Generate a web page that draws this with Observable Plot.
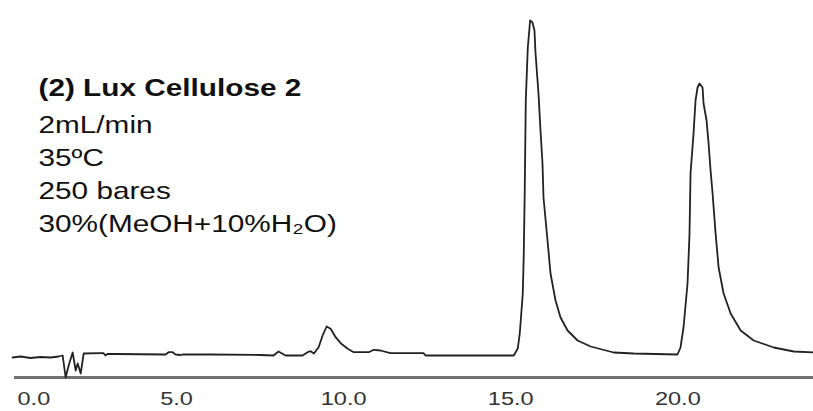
<!DOCTYPE html>
<html><head><meta charset="utf-8">
<script src="https://cdn.jsdelivr.net/npm/d3@7"></script>
<script src="https://cdn.jsdelivr.net/npm/@observablehq/plot@0.6"></script>
<style>body{margin:0;background:#fff}svg{overflow:visible}</style>
</head><body><div id="chart"></div>
<script>
// retention time (min)
const time = [0.03,0.27,0.57,0.87,1.17,1.41,1.53,1.62,1.71,1.83,1.92,1.98,2.07,2.16,2.66,2.75,2.81,2.87,3.11,
  4.61,4.70,4.82,4.91,5.06,5.12,5.96,7.45,7.84,7.99,8.20,8.71,8.86,8.95,9.05,9.19,9.31,9.43,9.55,9.70,9.85,
  10.06,10.24,10.69,10.84,11.04,11.34,12.33,12.39,13.14,14.04,14.79,15.03,15.15,15.21,15.30,15.33,15.36,15.39,
  15.45,15.52,15.59,15.65,15.68,15.77,15.83,15.89,15.92,16.04,16.13,16.28,16.43,16.64,16.94,17.33,18.02,18.62,
  19.93,20.02,20.11,20.23,20.29,20.32,20.41,20.47,20.53,20.59,20.68,20.71,20.80,20.86,20.92,20.98,21.07,21.16,
  21.31,21.52,21.82,22.21,22.81,23.41,24.01];
// detector signal (arbitrary units)
const signal = [-2,-1,-2.5,-1.5,-2,-1,0,-22,-10,3,-15,-8,-18,2,2.3,2.3,0,1.5,1.5,
  1,3.3,3.3,1,0.5,1,1,0.5,0,4,0,0,3.3,4.3,2,8.3,20,29,26.7,18.3,12.3,
  6.7,3.3,3.3,5.7,5,2.3,2.3,0,0,0,0,0,7,22,62,102,168,255,
  308,335,333,325,303,262,225,192,158,115,82,55,38,25,15,9,3,2,
  1,8,28,72,122,182,222,255,268,272,268,252,235,212,185,162,122,88,
  62,42,25,15,8,4,3];
const tickValues = [0, 5, 10, 15, 20];
const tickLabels = ["0.0", "5.0", "10.0", "15.0", "20.0"];
const infoLines = ["(2) Lux Cellulose 2", "2mL/min", "35ºC", "250 bares", "30%(MeOH+10%H₂O)"];

const trace = time.map((t, i) => ({t, s: signal[i]}));
const ticks = tickValues.map((v, i) => ({v, label: tickLabels[i]}));
const font = "'Liberation Sans', Arial, sans-serif";
const baselines = [95, 132, 165, 198, 231];

const infoMarks = infoLines.map((line, i) =>
  Plot.text([line], {frameAnchor: "top-left", dx: 38, dy: baselines[i], text: d => d,
    fontSize: 24, fontWeight: i === 0 ? "bold" : "normal", fill: "#111",
    textAnchor: "start", lineAnchor: "bottom", className: "stretch"}));

const chart = Plot.plot({
  width: 813,
  height: 411,
  marginLeft: 0,
  marginRight: 0,
  marginTop: 0,
  marginBottom: 34,
  style: {background: "#fff", fontFamily: font},
  x: {domain: [-0.33, 24.0], axis: null},
  y: {domain: [-22, 355], axis: null},
  marks: [
    Plot.ruleY([-22], {x1: 0.09, x2: 24.3, stroke: "#707070", strokeWidth: 3}),
    Plot.line(trace, {x: "t", y: "s", stroke: "#222", strokeWidth: 1.8}),
    Plot.text(ticks.slice(1), {x: "v", y: -22, dy: 21, dx: -2, text: "label", fontSize: 19, fill: "#333", lineAnchor: "middle", className: "stretch"}),
    Plot.text(ticks.slice(0, 1), {x: "v", y: -22, dy: 21, dx: 6, text: "label", fontSize: 19, fill: "#333", textAnchor: "start", lineAnchor: "middle", className: "stretch"}),
    ...infoMarks
  ]
});
// the reference glyphs are horizontally stretched (~1.25x)
d3.select(chart).selectAll(".stretch text").each(function() {
  const t = this.getAttribute("transform") || "";
  this.setAttribute("transform", (t + " scale(1.24,1)").trim());
});
document.getElementById("chart").append(chart);
</script>
</body></html>
